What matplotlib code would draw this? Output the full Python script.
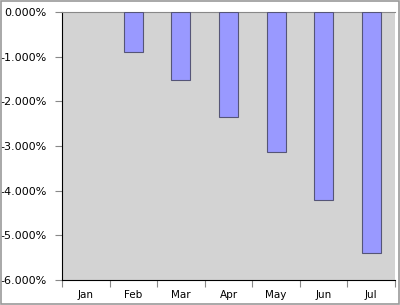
import matplotlib
matplotlib.use("Agg")
import matplotlib.pyplot as plt
from matplotlib.ticker import FuncFormatter, FixedLocator
from matplotlib.patches import Rectangle

months = ["Jan", "Feb", "Mar", "Apr", "May", "Jun", "Jul"]
values = [0.0, -0.90, -1.53, -2.34, -3.14, -4.20, -5.40]
yticks = [0, -1, -2, -3, -4, -5, -6]

fig = plt.figure(figsize=(4.0, 3.05), dpi=100)
fig.patch.set_facecolor("white")
fig.add_artist(Rectangle((0.002, 0.003), 0.995, 0.994, transform=fig.transFigure,
                         fill=False, edgecolor="#999999", linewidth=1.2))
ax = fig.add_axes([62/400, 1-280/305, 333/400, 268/305])
ax.set_facecolor("#d3d3d3")
x = list(range(len(months)))
lws = [0.8 if v != 0 else 0 for v in values]
ax.bar(x, values, width=0.4, color="#9999ff", edgecolor="#555577", linewidth=lws, zorder=3)
ax.set_xlim(-0.5, len(months) - 0.5)
ax.set_ylim(-6, 0)
ax.set_yticks(yticks)
ax.yaxis.set_major_formatter(FuncFormatter(lambda v, p: f"{v:.3f}%"))
ax.xaxis.set_major_locator(FixedLocator([i - 0.5 for i in range(len(months) + 1)]))
ax.xaxis.set_minor_locator(FixedLocator(x))
ax.xaxis.set_major_formatter(FuncFormatter(lambda v, p: ""))
ax.set_xticklabels(months, minor=True)
ax.tick_params(axis="x", which="major", length=5, color="#888888", direction="out")
ax.tick_params(axis="x", which="minor", length=0, labelsize=7.5, pad=7)
ax.tick_params(axis="y", length=5, color="#888888", labelsize=8, pad=6)
ax.spines["left"].set_color("black")
ax.spines["bottom"].set_color("black")
ax.spines["top"].set_color("#888888")
ax.spines["right"].set_visible(False)
fig.savefig("out.png", dpi=100)
